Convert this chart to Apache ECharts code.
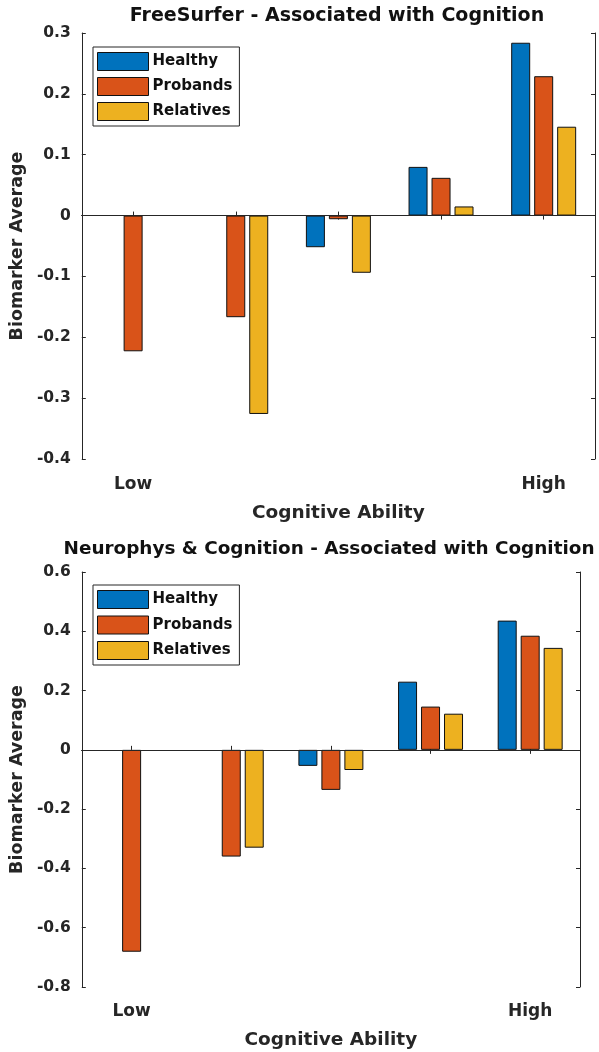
<!DOCTYPE html>
<html>
<head>
<meta charset="utf-8">
<script src="https://cdn.jsdelivr.net/npm/echarts@6/dist/echarts.min.js"></script>
<style>
html,body{margin:0;padding:0;background:#fff;}
#chart{width:599px;height:1052px;}
</style>
</head>
<body>
<div id="chart"></div>
<script>
const categories = ['1', '2', '3', '4', '5'];
const tickLabels = ['Low', '', '', '', 'High'];
const seriesNames = ['Healthy', 'Probands', 'Relatives'];

const fsHealthy   = [null, null, -0.052, 0.080, 0.284];
const fsProbands  = [-0.223, -0.167, -0.006, 0.062, 0.229];
const fsRelatives = [null, -0.326, -0.094, 0.015, 0.146];

const npHealthy   = [null, null, -0.054, 0.230, 0.436];
const npProbands  = [-0.681, -0.360, -0.135, 0.146, 0.385];
const npRelatives = [null, -0.330, -0.068, 0.122, 0.344];

const fsTicks = {min: -0.4, max: 0.3, interval: 0.1};
const npTicks = {min: -0.8, max: 0.6, interval: 0.2};

const titles = ['FreeSurfer - Associated with Cognition', 'Neurophys & Cognition - Associated with Cognition'];
const xName = 'Cognitive Ability';
const yName = 'Biomarker Average';

const colors = ['#0072BD', '#D95319', '#EDB120'];
const FONT = 'DejaVu Sans';
const AX = '#262626';

const chart = echarts.init(document.getElementById('chart'));

const grids = [
  {left: 80, top: 33, width: 515, height: 426},
  {left: 79, top: 572, width: 501, height: 415}
];
const xLabelMargin = [17, 16];
const xNameGap = [45, 44];

function yFmt(v) {
  if (Math.abs(v) < 1e-9) return '0';
  return v.toFixed(1);
}

const xAxes = [];
const yAxes = [];
[fsTicks, npTicks].forEach((t, g) => {
  xAxes.push({
    type: 'category', gridIndex: g, data: categories, position: 'bottom',
    axisLine: {show: true, lineStyle: {color: AX, width: 1}},
    axisTick: {show: true, inside: true, alignWithLabel: true, length: 4, lineStyle: {color: AX}},
    axisLabel: {show: true, margin: xLabelMargin[g], color: AX, fontFamily: FONT, fontWeight: 'bold', fontSize: 17,
      formatter: (v, i) => tickLabels[i]},
    splitLine: {show: false},
    name: xName, nameLocation: 'middle', nameGap: xNameGap[g],
    nameTextStyle: {color: AX, fontFamily: FONT, fontWeight: 'bold', fontSize: 18.5}
  });
  xAxes.push({
    type: 'category', gridIndex: g, data: categories, position: 'top',
    axisLine: {show: true, lineStyle: {color: AX, width: 1}},
    axisTick: {show: true, inside: true, alignWithLabel: true, length: 4, lineStyle: {color: AX}},
    axisLabel: {show: false}, splitLine: {show: false}
  });
  yAxes.push({
    type: 'value', gridIndex: g, min: t.min, max: t.max, interval: t.interval, position: 'left',
    axisLine: {show: true, lineStyle: {color: AX, width: 1}},
    axisTick: {show: true, inside: true, length: 4, lineStyle: {color: AX}},
    axisLabel: {show: true, margin: 11, color: AX, fontFamily: FONT, fontWeight: 'bold', fontSize: 15.5, formatter: yFmt},
    splitLine: {show: false},
    name: yName, nameLocation: 'middle', nameGap: 54,
    nameTextStyle: {color: AX, fontFamily: FONT, fontWeight: 'bold', fontSize: 17.5}
  });
  yAxes.push({
    type: 'value', gridIndex: g, min: t.min, max: t.max, interval: t.interval, position: 'right',
    axisLine: {show: true, lineStyle: {color: AX, width: 1}},
    axisTick: {show: true, inside: true, length: 4, lineStyle: {color: AX}},
    axisLabel: {show: false}, splitLine: {show: false}
  });
});

const plotData = [[fsHealthy, fsProbands, fsRelatives], [npHealthy, npProbands, npRelatives]];
const series = [];
plotData.forEach((arrs, g) => {
  arrs.forEach((arr, k) => {
    const s = {
      type: 'bar', name: seriesNames[k], xAxisIndex: g * 2, yAxisIndex: g * 2,
      data: arr, barWidth: 19, barGap: '21%',
      itemStyle: {color: colors[k], borderColor: '#111', borderWidth: 1},
      emphasis: {disabled: true}, animation: false
    };
    if (k === 0) {
      s.markLine = {silent: true, symbol: ['none', 'none'], label: {show: false},
        lineStyle: {color: AX, width: 1, type: 'solid'}, animation: false,
        data: [{yAxis: 0}]};
    }
    series.push(s);
  });
});

const legendCommon = {
  orient: 'vertical', itemWidth: 51, itemHeight: 18, itemGap: 6,
  backgroundColor: '#fff', borderColor: AX, borderWidth: 1, padding: [5, 7, 5, 4],
  icon: 'rect', selectedMode: false,
  itemStyle: {borderColor: '#111', borderWidth: 1},
  textStyle: {color: '#111', fontFamily: FONT, fontWeight: 'bold', fontSize: 15, padding: [0, 0, 0, -1]},
  data: seriesNames
};

chart.setOption({
  animation: false,
  color: colors,
  title: [
    {text: titles[0], left: 337, top: 7, textAlign: 'center', padding: 0,
      textStyle: {color: '#111', fontFamily: FONT, fontWeight: 'bold', fontSize: 19}},
    {text: titles[1], left: 329, top: 540, textAlign: 'center', padding: 0,
      textStyle: {color: '#111', fontFamily: FONT, fontWeight: 'bold', fontSize: 18.4}}
  ],
  legend: [
    Object.assign({}, legendCommon, {left: 93, top: 47}),
    Object.assign({}, legendCommon, {left: 93, top: 585, itemGap: 6.5})
  ],
  grid: grids.map(g => Object.assign({containLabel: false}, g)),
  xAxis: xAxes,
  yAxis: yAxes,
  series: series
});
</script>
</body>
</html>
